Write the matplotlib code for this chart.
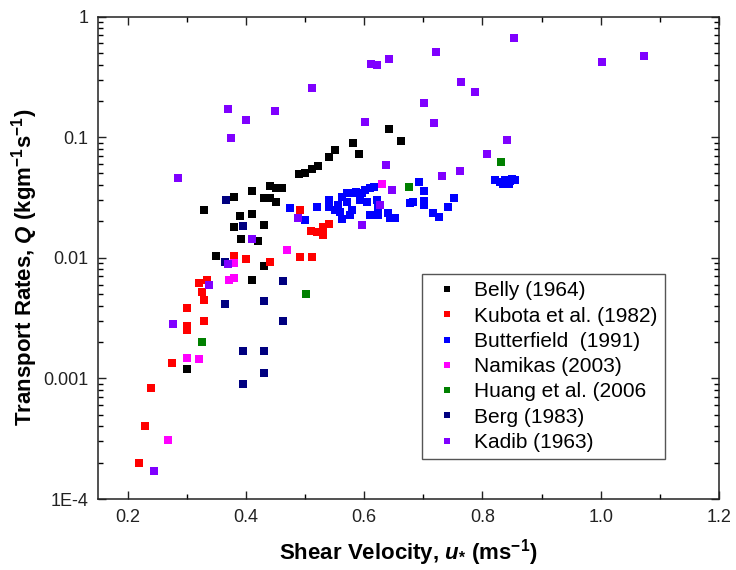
import matplotlib
matplotlib.use('Agg')
import matplotlib.pyplot as plt
from matplotlib.ticker import LogLocator, NullFormatter, MultipleLocator

plt.rcParams['font.family'] = ['Liberation Sans', 'DejaVu Sans']
plt.rcParams['mathtext.fontset'] = 'custom'
plt.rcParams['mathtext.rm'] = 'Liberation Sans:bold'
plt.rcParams['mathtext.it'] = 'Liberation Sans:bold:italic'
plt.rcParams['mathtext.bf'] = 'Liberation Sans:bold'

# shear velocity (m/s) and transport rate (kg/m/s) per data set
belly_u = [0.642, 0.662, 0.581, 0.592, 0.551, 0.541, 0.522, 0.511, 0.500, 0.490,
           0.441, 0.451, 0.461, 0.410, 0.380, 0.431, 0.440, 0.451, 0.329, 0.410,
           0.390, 0.431, 0.380, 0.391, 0.421, 0.350, 0.431, 0.410, 0.300]
belly_q = [0.117, 0.092, 0.090, 0.073, 0.078, 0.069, 0.058, 0.054, 0.050, 0.049,
           0.039, 0.038, 0.038, 0.036, 0.032, 0.031, 0.0315, 0.029, 0.025, 0.023,
           0.022, 0.0186, 0.0181, 0.0142, 0.0138, 0.0104, 0.0085, 0.0066, 0.0012]

kubota_u = [0.492, 0.510, 0.520, 0.531, 0.531, 0.541, 0.380, 0.400, 0.440, 0.492,
            0.511, 0.321, 0.335, 0.325, 0.329, 0.300, 0.329, 0.300, 0.301, 0.275,
            0.239, 0.230, 0.219]
kubota_q = [0.025, 0.0168, 0.0164, 0.0154, 0.0181, 0.019, 0.0104, 0.0098, 0.0092, 0.0101,
            0.0101, 0.0062, 0.0066, 0.0052, 0.0045, 0.0038, 0.0030, 0.0027, 0.0025, 0.00134,
            0.00083, 0.0004, 0.0002]

butter_u = [0.475, 0.500, 0.521, 0.541, 0.541, 0.551, 0.556, 0.559, 0.562, 0.562,
            0.571, 0.579, 0.587, 0.596, 0.602, 0.610, 0.616, 0.571, 0.579, 0.576,
            0.593, 0.604, 0.621, 0.624, 0.610, 0.624, 0.641, 0.644, 0.652, 0.678,
            0.683, 0.692, 0.701, 0.701, 0.701, 0.717, 0.727, 0.742, 0.752, 0.821,
            0.830, 0.838, 0.847, 0.855, 0.835, 0.845, 0.850]
butter_q = [0.0257, 0.0205, 0.0262, 0.0301, 0.0265, 0.0249, 0.0274, 0.0241, 0.0208, 0.0321,
            0.0342, 0.0346, 0.0353, 0.0346, 0.0364, 0.0376, 0.0388, 0.0291, 0.0249, 0.0226,
            0.0301, 0.0291, 0.0301, 0.0265, 0.0226, 0.0226, 0.0233, 0.0212, 0.0212, 0.0283,
            0.0291, 0.0427, 0.0359, 0.0297, 0.0274, 0.0233, 0.0219, 0.0265, 0.0311, 0.0437,
            0.0424, 0.0441, 0.0433, 0.0441, 0.0410, 0.0410, 0.0450]

namikas_u = [0.631, 0.470, 0.380, 0.371, 0.380, 0.300, 0.320, 0.269]
namikas_q = [0.0408, 0.0115, 0.0090, 0.0065, 0.0068, 0.00147, 0.00144, 0.00031]

huang_u = [0.832, 0.676, 0.501, 0.325]
huang_q = [0.0625, 0.0386, 0.0050, 0.0020]

berg_u = [0.366, 0.395, 0.365, 0.463, 0.365, 0.431, 0.463, 0.395, 0.431, 0.431, 0.395]
berg_q = [0.0299, 0.0184, 0.0093, 0.0064, 0.0041, 0.0044, 0.0030, 0.0017, 0.0017, 0.0011, 0.0009]

kadib_u = [0.853, 0.722, 0.611, 0.622, 0.642, 1.003, 1.074, 0.764, 0.788, 0.511,
           0.369, 0.400, 0.450, 0.375, 0.602, 0.702, 0.718, 0.637, 0.732, 0.285,
           0.647, 0.627, 0.489, 0.596, 0.410, 0.842, 0.808, 0.762, 0.369, 0.337,
           0.277, 0.244]
kadib_q = [0.667, 0.511, 0.404, 0.396, 0.444, 0.417, 0.470, 0.285, 0.237, 0.257,
           0.170, 0.139, 0.164, 0.099, 0.134, 0.192, 0.130, 0.0587, 0.0474, 0.0455,
           0.0362, 0.0272, 0.0212, 0.0187, 0.0144, 0.094, 0.0728, 0.0524, 0.0088, 0.0059,
           0.0028, 0.00017]

labels = ['Belly (1964)', 'Kubota et al. (1982)', 'Butterfield  (1991)', 'Namikas (2003)',
          'Huang et al. (2006', 'Berg (1983)', 'Kadib (1963)']
colors = ['#000000', '#ff0000', '#0000ff', '#ff00ff', '#008000', '#000080', '#7f00ff']
xs = [belly_u, kubota_u, butter_u, namikas_u, huang_u, berg_u, kadib_u]
ys = [belly_q, kubota_q, butter_q, namikas_q, huang_q, berg_q, kadib_q]

xticks = [0.2, 0.4, 0.6, 0.8, 1.0, 1.2]
xticklabels = ['0.2', '0.4', '0.6', '0.8', '1.0', '1.2']
yticks = [1e-4, 1e-3, 1e-2, 1e-1, 1]
yticklabels = ['1E-4', '0.001', '0.01', '0.1', '1']

fig = plt.figure(figsize=(7.36, 5.70), dpi=100)
ax = fig.add_axes([98/736, 1-499/570, 621/736, 482.5/570])

for u, q, c, lab in zip(xs, ys, colors, labels):
    ax.plot(u, q, linestyle='none', marker='s', markersize=5.2, color=c,
            markeredgewidth=0, label=lab)

ax.set_yscale('log')
ax.set_xlim(0.15, 1.2)
ax.set_ylim(1e-4, 1)
ax.set_xticks(xticks)
ax.set_xticklabels(xticklabels)
ax.xaxis.set_minor_locator(MultipleLocator(0.1))
ax.set_yticks(yticks)
ax.set_yticklabels(yticklabels)
ax.yaxis.set_minor_locator(LogLocator(base=10, subs=range(2, 10)))
ax.yaxis.set_minor_formatter(NullFormatter())

ax.tick_params(which='both', direction='in', top=True, right=True, width=1)
ax.tick_params(which='major', length=6, labelsize=13, pad=7, colors='#222222')
ax.tick_params(which='minor', length=3.5)
for s in ax.spines.values():
    s.set_linewidth(1.1)
    s.set_color('#222222')

ax.set_xlabel(r'Shear Velocity, $\it{u}_{*}$ (ms$^{-1}$)', fontsize=16,
              fontweight='bold', labelpad=8)
ax.set_ylabel(r'Transport Rates, $\it{Q}$ (kgm$^{-1}$s$^{-1}$)', fontsize=16,
              fontweight='bold')
ax.yaxis.set_label_coords(-0.093, 0.48)

leg = ax.legend(loc='upper left', bbox_to_anchor=(0.521, 0.466), borderaxespad=0,
                fontsize=15, markerscale=0.75, handlelength=1.7, handletextpad=0.49,
                labelspacing=0.3, borderpad=0.35, fancybox=False, framealpha=1,
                edgecolor='#555555')
leg.get_frame().set_linewidth(1.0)

fig.savefig('out.png', dpi=100)
